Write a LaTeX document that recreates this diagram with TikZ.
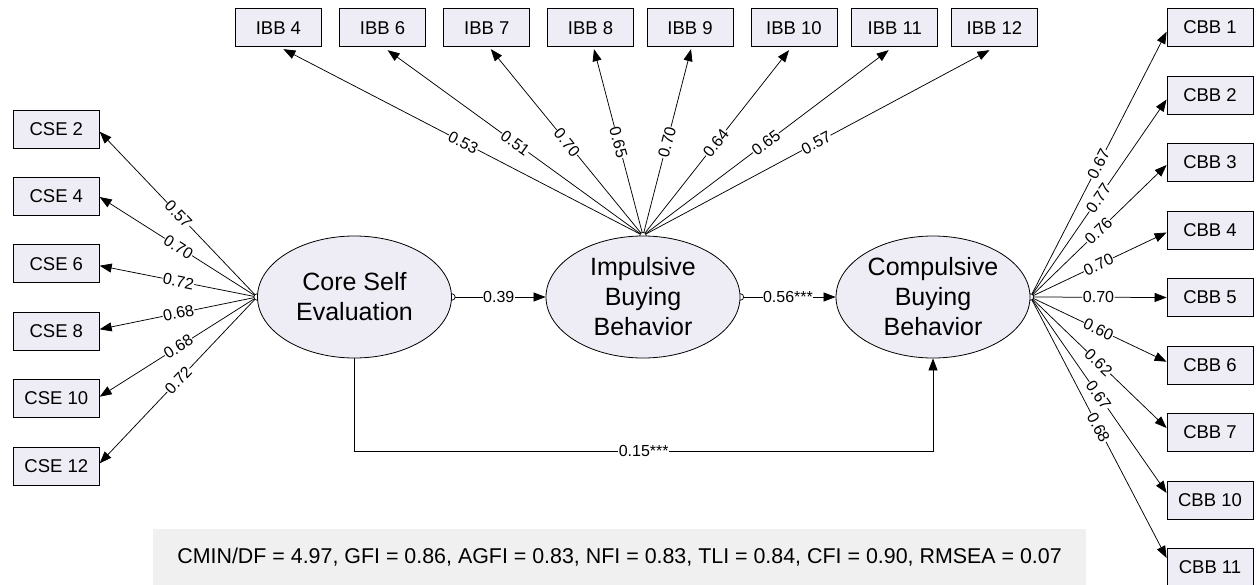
\documentclass[tikz,border=0pt]{standalone}
\usepackage{fontspec}
\setmainfont{Liberation Sans}
\usetikzlibrary{shapes.geometric,arrows.meta,backgrounds,calc}
\definecolor{boxfill}{RGB}{238,237,245}
\definecolor{fitfill}{RGB}{240,240,240}
\begin{document}
\begin{tikzpicture}[x=1pt,y=-1pt,
  obs/.style={draw, fill=boxfill, line width=0.8pt, minimum width=86pt, minimum height=38pt, inner sep=0pt, font=\fontsize{18.5}{20}\selectfont},
  lat/.style={ellipse, draw, fill=boxfill, line width=0.8pt, minimum width=194pt, minimum height=122pt, inner sep=0pt},
  lattext/.style={align=center, font=\fontsize{25}{30}\selectfont, inner sep=0pt},
  load/.style={line width=0.75pt, -{Triangle[length=12pt,width=9pt]}},
  lbl/.style={fill=white, inner sep=0.5pt, font=\fontsize{16}{16}\selectfont, sloped, midway},
  origin/.style={draw, fill=white, line width=0.7pt, circle, inner sep=0pt, minimum size=6.5pt},
]
\useasboundingbox (0,0) rectangle (1257,584);

% fit indices
\node[fill=fitfill, minimum width=933pt, minimum height=56pt, inner sep=0pt, font=\fontsize{21.4}{24}\selectfont] (fit) at (619.5,557)
  {CMIN/DF = 4.97, GFI = 0.86, AGFI = 0.83, NFI = 0.83, TLI = 0.84, CFI = 0.90, RMSEA = 0.07};

% latent variables
\node[lat] (cse) at (354.5,297) {};
\node[lattext] (cset) at (cse) {Core Self\\Evaluation};
\node[lat] (ibb) at (643,297) {};
\node[lattext] (ibbt) at (ibb) {Impulsive\\Buying\\Behavior};
\node[lat] (cbb) at (933,297) {};
\node[lattext] (cbbt) at (cbb) {Compulsive\\Buying\\Behavior};

% CSE indicators
\node[obs] (cse2)  at (56.3,129)   {CSE 2};
\node[obs] (cse4)  at (56.3,196.4) {CSE 4};
\node[obs] (cse6)  at (56.3,263.8) {CSE 6};
\node[obs] (cse8)  at (56.3,331.2) {CSE 8};
\node[obs] (cse10) at (56.3,398.6) {CSE 10};
\node[obs] (cse12) at (56.3,466)   {CSE 12};

% IBB indicators
\node[obs] (ibb4)  at (278.4,27.75) {IBB 4};
\node[obs] (ibb6)  at (382.6,27.75) {IBB 6};
\node[obs] (ibb7)  at (486.8,27.75) {IBB 7};
\node[obs] (ibb8)  at (590.5,27.75) {IBB 8};
\node[obs] (ibb9)  at (690,27.75)   {IBB 9};
\node[obs] (ibb10) at (794,27.75)   {IBB 10};
\node[obs] (ibb11) at (894.7,27.75) {IBB 11};
\node[obs] (ibb12) at (994.5,27.75) {IBB 12};

% CBB indicators
\node[obs] (cbb1)  at (1210,27.5)  {CBB 1};
\node[obs] (cbb2)  at (1210,95)    {CBB 2};
\node[obs] (cbb3)  at (1210,162.5) {CBB 3};
\node[obs] (cbb4)  at (1210,230)   {CBB 4};
\node[obs] (cbb5)  at (1210,297.5) {CBB 5};
\node[obs] (cbb6)  at (1210,365)   {CBB 6};
\node[obs] (cbb7)  at (1210,432.5) {CBB 7};
\node[obs] (cbb10) at (1210,500)   {CBB 10};
\node[obs] (cbb11) at (1210,567.5) {CBB 11};

\coordinate (k1) at (354.5,451);
\coordinate (k2) at (933,451);

\begin{scope}[on background layer]
  % CSE loadings
  \draw[load] (cse.west) -- node[lbl]{0.57} ($(cse2.east)+(0,2.7)$);
  \draw[load] (cse.west) -- node[lbl]{0.70} ($(cse4.east)+(0,0.6)$);
  \draw[load] (cse.west) -- node[lbl]{0.72} ($(cse6.east)+(0,1.9)$);
  \draw[load] (cse.west) -- node[lbl]{0.68} ($(cse8.east)+(0,-1.9)$);
  \draw[load] (cse.west) -- node[lbl]{0.68} ($(cse10.east)+(0,-1.9)$);
  \draw[load] (cse.west) -- node[lbl]{0.72} ($(cse12.east)+(0,-2.7)$);
  % IBB loadings
  \draw[load] (ibb.north) -- node[lbl]{0.53} ($(ibb4.south)+(5,2)$);
  \draw[load] (ibb.north) -- node[lbl]{0.51} ($(ibb6.south)+(5,3)$);
  \draw[load] (ibb.north) -- node[lbl]{0.70} ($(ibb7.south)+(4,2)$);
  \draw[load] (ibb.north) -- node[lbl]{0.65} ($(ibb8.south)+(3.5,2)$);
  \draw[load] (ibb.north) -- node[lbl]{0.70} ($(ibb9.south)+(1,2)$);
  \draw[load] (ibb.north) -- node[lbl]{0.64} ($(ibb10.south)+(-5,3)$);
  \draw[load] (ibb.north) -- node[lbl]{0.65} ($(ibb11.south)+(-6,3)$);
  \draw[load] (ibb.north) -- node[lbl]{0.57} ($(ibb12.south)+(-5,3)$);
  % CBB loadings
  \draw[load] (cbb.east) -- node[lbl]{0.67} ($(cbb1.west)+(0,4.2)$);
  \draw[load] (cbb.east) -- node[lbl]{0.77} ($(cbb2.west)+(0,4.5)$);
  \draw[load] (cbb.east) -- node[lbl]{0.76} ($(cbb3.west)+(0,2.5)$);
  \draw[load] (cbb.east) -- node[lbl]{0.70} ($(cbb4.west)+(0,2.5)$);
  \draw[load] (cbb.east) -- node[lbl]{0.70} (cbb5.west);
  \draw[load] (cbb.east) -- node[lbl]{0.60} ($(cbb6.west)+(0,-3.3)$);
  \draw[load] (cbb.east) -- node[lbl]{0.62} ($(cbb7.west)+(0,-4.5)$);
  \draw[load] (cbb.east) -- node[lbl]{0.67} ($(cbb10.west)+(0,-7)$);
  \draw[load] (cbb.east) -- node[lbl]{0.68} ($(cbb11.west)+(0,-9.5)$);
  % structural paths
  \draw[load] (cse.east) -- node[lbl]{0.39} (ibb.west);
  \draw[load] (ibb.east) -- node[lbl]{0.56***} (cbb.west);
  \draw[load] (cse.south) -- (k1) -- node[lbl]{0.15***} (k2) -- (cbb.south);
  % origin markers
  \node[origin] (o1) at (cse.west) {};
  \node[origin] (o2) at (cse.east) {};
  \node[origin] (o3) at (ibb.north) {};
  \node[origin] (o4) at (ibb.east) {};
  \node[origin] (o5) at (cbb.east) {};
\end{scope}
\end{tikzpicture}
\end{document}
